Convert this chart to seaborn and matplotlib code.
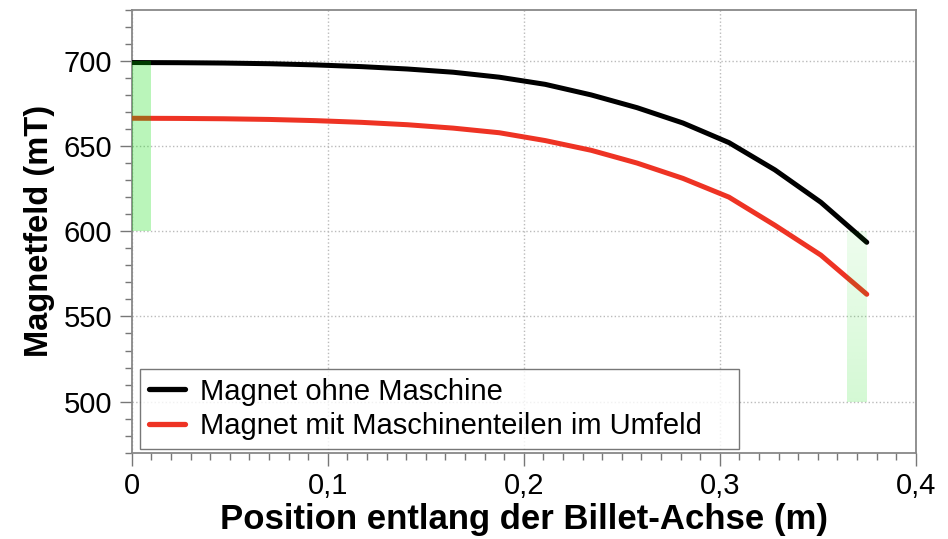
import numpy as np
import pandas as pd
import matplotlib
matplotlib.use("Agg")
import matplotlib.pyplot as plt
from matplotlib.ticker import MultipleLocator, FuncFormatter
from matplotlib.lines import Line2D
import seaborn as sns

# ---- data ----
n_points = 17
position_m = [i * 0.375 / 16 for i in range(n_points)]
field_without = [699.0, 698.9, 698.7, 698.3, 697.6, 696.6, 695.2, 693.3, 690.4,
                 686.2, 680.0, 672.5, 663.5, 652.0, 636.0, 617.0, 593.5]
field_with = [666.3, 666.2, 666.0, 665.6, 664.9, 663.9, 662.5, 660.5, 657.8,
              653.2, 647.5, 640.0, 631.0, 620.0, 603.5, 586.0, 563.0]
label_without = "Magnet ohne Maschine"
label_with = "Magnet mit Maschinenteilen im Umfeld"
x_ticklabels = ["0", "0,1", "0,2", "0,3", "0,4"]

# highlighted ranges (x0, x1, y0, y1)
band_start = (0.0, 0.01, 600, 700)
band_end = (0.365, 0.375, 500, 600)

df = pd.DataFrame({
    "pos": position_m * 2,
    "field": field_without + field_with,
    "series": [label_without] * n_points + [label_with] * n_points,
})

sns.set_theme(style="white")
plt.rcParams["font.family"] = ["Liberation Sans", "DejaVu Sans"]
plt.rcParams["text.color"] = "black"
plt.rcParams["axes.labelcolor"] = "black"

fig = plt.figure(figsize=(9.48, 5.39), dpi=100)
ax = fig.add_axes([0.139, 0.160, 0.827, 0.822])

sns.lineplot(data=df, x="pos", y="field", hue="series",
             palette={label_without: "#000000", label_with: "#ee3324"},
             linewidth=3.6, ax=ax, legend=False, zorder=3)

# green highlight bands (on top of the lines, semi-transparent)
ax.fill_between([band_start[0], band_start[1]], band_start[2], band_start[3],
                color="#00dc00", alpha=0.27, linewidth=0, zorder=4)
grad = np.zeros((64, 1, 4))
grad[..., 1] = 220 / 255
grad[..., 3] = np.linspace(0.07, 0.17, 64)[:, None]
ax.imshow(grad, extent=[band_end[0], band_end[1], band_end[2], band_end[3]],
          origin="upper", aspect="auto", zorder=4, interpolation="bilinear")

ax.set_xlim(0, 0.4)
ax.set_ylim(470, 730)

ax.xaxis.set_major_locator(MultipleLocator(0.1))
ax.xaxis.set_minor_locator(MultipleLocator(0.01))
ax.yaxis.set_major_locator(MultipleLocator(50))
ax.yaxis.set_minor_locator(MultipleLocator(10))
ax.xaxis.set_major_formatter(FuncFormatter(
    lambda v, p: x_ticklabels[int(round(v * 10))] if 0 <= int(round(v * 10)) < len(x_ticklabels) else ""))

ax.tick_params(axis="both", which="major", direction="out", length=9, width=1,
               color="#777777", labelcolor="black", labelsize=21, pad=5,
               bottom=True, left=True)
ax.tick_params(axis="both", which="minor", direction="out", length=5, width=1,
               color="#777777", bottom=True, left=True)

ax.grid(True, which="major", linestyle=":", color="#bbbbbb", linewidth=1)
for s in ax.spines.values():
    s.set_color("#888888")
    s.set_linewidth(1.3)

ax.set_xlabel("Position entlang der Billet-Achse (m)", fontsize=25, fontweight="bold", labelpad=2)
ax.set_ylabel("Magnetfeld (mT)", fontsize=23.5, fontweight="bold", labelpad=6)

handles = [Line2D([], [], color="#000000", lw=3.8), Line2D([], [], color="#ee3324", lw=3.8)]
leg = ax.legend(handles, [label_without, label_with], loc="lower left",
                bbox_to_anchor=(0.0102, 0.009, 0.764, 0.2), mode="expand",
                fontsize=21, frameon=True, fancybox=False,
                handlelength=1.25, handletextpad=0.5, borderpad=0.3, labelspacing=0.22,
                borderaxespad=0)
leg.get_frame().set_edgecolor("#555555")
leg.get_frame().set_linewidth(1)
leg.set_zorder(5)

fig.savefig("out.png", dpi=100)
